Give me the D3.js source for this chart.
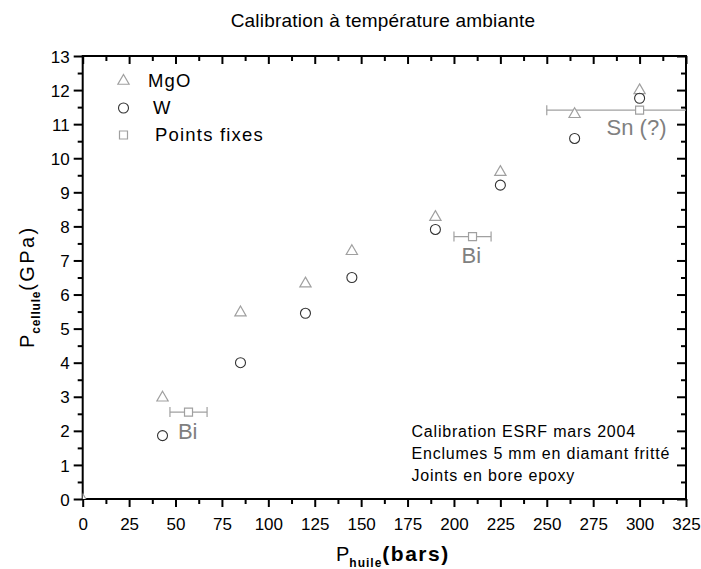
<!DOCTYPE html>
<html><head><meta charset="utf-8">
<script src="https://cdn.jsdelivr.net/npm/d3@7"></script>
<style>body{margin:0;background:#fff}svg{display:block}text{font-family:Arial,"Liberation Sans",sans-serif}</style>
</head><body><svg id="c" width="701" height="569"></svg>
<script>
const mgoX = [0, 43, 85, 120, 145, 190, 225, 265, 300];
const mgoY = [0, 3.0, 5.5, 6.35, 7.3, 8.3, 9.62, 11.32, 12.02];
const wX = [43, 85, 120, 145, 190, 225, 265, 300];
const wY = [1.86, 4.0, 5.45, 6.5, 7.91, 9.21, 10.58, 11.76];
const fixX = [57, 210, 300];
const fixY = [2.55, 7.7, 11.41];
const fixErr = [10, 10, 50];
const fixLabels = ["Bi", "Bi", "Sn (?)"];
const fixLabelX = [51.3, 204.1, 282.2];
const fixLabelY = [1.76, 6.93, 10.68];
const xTicks = d3.range(0, 326, 25);
const yTicks = d3.range(0, 14, 1);
const legendNames = ["MgO", "W", "Points fixes"];
const noteLines = ["Calibration ESRF mars 2004", "Enclumes 5 mm en diamant fritté", "Joints en bore epoxy"];

const svg = d3.select("#c");
const L = 82.7, R = 686, T = 56, B = 499;
const x = d3.scaleLinear().domain([0, 325]).range([L, R]);
const y = d3.scaleLinear().domain([0, 13]).range([B, T]);
const gray = "#a0a0a0", dark = "#333";

svg.append("text").attr("x", 383).attr("y", 27).attr("text-anchor", "middle")
  .attr("font-size", 19).attr("letter-spacing", 0.2).text("Calibration à température ambiante");

svg.append("clipPath").attr("id", "clip").append("rect")
  .attr("x", L).attr("y", T).attr("width", R - L).attr("height", B - T);

const tickFmt = d => d3.format("d")(d);
const gx = svg.append("g").attr("transform", `translate(0,${B})`)
  .call(d3.axisBottom(x).tickValues(xTicks).tickSize(8).tickFormat(tickFmt));
svg.append("g").attr("transform", `translate(0,${B})`)
  .call(d3.axisBottom(x).tickValues(d3.range(12.5, 325, 25)).tickSize(5).tickFormat(""));
svg.append("g").attr("transform", `translate(0,${T})`)
  .call(d3.axisBottom(x).tickValues(xTicks).tickSize(8).tickFormat(""));
svg.append("g").attr("transform", `translate(0,${T})`)
  .call(d3.axisBottom(x).tickValues(d3.range(12.5, 325, 25)).tickSize(5).tickFormat(""));
const gy = svg.append("g").attr("transform", `translate(${L},0)`)
  .call(d3.axisLeft(y).tickValues(yTicks).tickSize(9).tickFormat(tickFmt));
svg.append("g").attr("transform", `translate(${L},0)`)
  .call(d3.axisLeft(y).tickValues(d3.range(0.5, 13, 1)).tickSize(5).tickFormat(""));
svg.append("g").attr("transform", `translate(${R},0)`)
  .call(d3.axisLeft(y).tickValues(yTicks).tickSize(9).tickFormat(""));
svg.append("g").attr("transform", `translate(${R},0)`)
  .call(d3.axisLeft(y).tickValues(d3.range(0.5, 13, 1)).tickSize(5).tickFormat(""));

svg.selectAll(".domain").remove();
svg.selectAll(".tick line").attr("stroke", "#000").attr("stroke-width", 2);
svg.selectAll(".tick text").attr("font-size", 17).attr("fill", "#000").attr("font-family", "Arial, 'Liberation Sans', sans-serif");
gx.selectAll(".tick text").attr("dy", "1.2em");
gy.selectAll(".tick text").attr("x", -13).attr("dy", "0.36em");

svg.append("rect").attr("x", L).attr("y", T).attr("width", R - L).attr("height", B - T)
  .attr("fill", "none").attr("stroke", "#000").attr("stroke-width", 2);

// axis titles
const xt = svg.append("text").attr("x", 336).attr("y", 561).attr("font-size", 20);
xt.append("tspan").text("P");
xt.append("tspan").attr("font-size", 12).attr("font-weight", "bold").attr("letter-spacing", 1).attr("dy", 6).text("huile");
xt.append("tspan").attr("dy", -6).attr("font-size", 21).attr("font-weight", "bold").attr("letter-spacing", 1.5).text("(bars)");
const yt = svg.append("text").attr("transform", "translate(34,348) rotate(-90)").attr("font-size", 20);
yt.append("tspan").text("P");
yt.append("tspan").attr("font-size", 12).attr("font-weight", "bold").attr("letter-spacing", 0.8).attr("dx", 1).attr("dy", 6).text("cellule");
yt.append("tspan").attr("dy", -6).attr("letter-spacing", 2.4).text("(GPa)");

const plot = svg.append("g").attr("clip-path", "url(#clip)");
const tri = d3.symbol().type(d3.symbolTriangle).size(55);
const sq = d3.symbol().type(d3.symbolSquare).size(64);

fixX.forEach((fx, i) => {
  const g = plot.append("g").attr("stroke", gray).attr("stroke-width", 1.2);
  g.append("line").attr("x1", x(fx - fixErr[i])).attr("x2", x(fx + fixErr[i])).attr("y1", y(fixY[i])).attr("y2", y(fixY[i]));
  [fx - fixErr[i], fx + fixErr[i]].forEach(e => g.append("line").attr("x1", x(e)).attr("x2", x(e)).attr("y1", y(fixY[i]) - 5).attr("y2", y(fixY[i]) + 5));
});
plot.selectAll(".sq").data(fixX).join("path")
  .attr("d", sq).attr("transform", (d, i) => `translate(${x(d)},${y(fixY[i])})`)
  .attr("fill", "#fff").attr("stroke", gray).attr("stroke-width", 1.2);
plot.selectAll(".tri").data(mgoX).join("path")
  .attr("d", tri).attr("transform", (d, i) => `translate(${x(d)},${y(mgoY[i]) + 1})`)
  .attr("fill", "#fff").attr("stroke", gray).attr("stroke-width", 1.2);
plot.selectAll(".cir").data(wX).join("circle")
  .attr("cx", d => x(d)).attr("cy", (d, i) => y(wY[i])).attr("r", 5)
  .attr("fill", "none").attr("stroke", dark).attr("stroke-width", 1.1);

fixLabels.forEach((t, i) => {
  svg.append("text").attr("x", x(fixLabelX[i])).attr("y", y(fixLabelY[i]))
    .attr("font-size", 22).attr("fill", "#808080").text(t);
});

const legY = [80, 108, 135];
const legX = [148, 153, 155];
const legBase = [87, 114, 141];
svg.append("path").attr("d", tri).attr("transform", `translate(123.5,${legY[0] + 1})`).attr("fill", "#fff").attr("stroke", gray).attr("stroke-width", 1.2);
svg.append("circle").attr("cx", 123.5).attr("cy", legY[1]).attr("r", 5).attr("fill", "none").attr("stroke", dark).attr("stroke-width", 1.1);
svg.append("path").attr("d", sq).attr("transform", `translate(123.5,${legY[2]})`).attr("fill", "#fff").attr("stroke", gray).attr("stroke-width", 1.2);
legendNames.forEach((n, i) => svg.append("text").attr("x", legX[i]).attr("y", legBase[i]).attr("font-size", 18.5).attr("letter-spacing", 1.2).text(n));

noteLines.forEach((t, i) => svg.append("text").attr("x", 411.5).attr("y", 437 + i * 22).attr("font-size", 16).attr("letter-spacing", 0.8).text(t));
</script></body></html>
